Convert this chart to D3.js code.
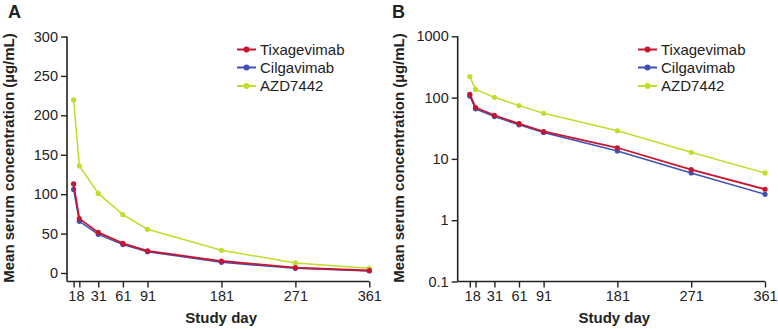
<!DOCTYPE html>
<html><head><meta charset="utf-8">
<script src="https://cdn.jsdelivr.net/npm/d3@7"></script>
<style>
body{margin:0;background:#fff;}
svg{display:block;font-family:"Liberation Sans",Arial,sans-serif;}
</style></head>
<body>
<svg id="c" width="778" height="329"></svg>
<script>
const days = [1, 8, 31, 61, 91, 181, 271, 361];
const tickLabels = ["1", "8", "31", "61", "91", "181", "271", "361"];
const seriesNames = ["Tixagevimab", "Cilgavimab", "AZD7442"];
const tixagevimab = [113, 69, 51.5, 37.5, 28, 15.2, 6.7, 3.2];
const cilgavimab = [106, 65.5, 49, 36, 27, 13.5, 5.9, 2.65];
const azd7442 = [219.5, 136, 101, 74, 55.5, 28.8, 12.8, 5.9];
const colors = ["#c8142e", "#3f50b4", "#c3dc2c"];
const linearTicks = [0, 50, 100, 150, 200, 250, 300];
const logTicks = [0.1, 1, 10, 100, 1000];
const logTickLabels = ["0.1", "1", "10", "100", "1000"];

const allSeries = [tixagevimab, cilgavimab, azd7442];
const svg = d3.select("#c");

function panel(opt) {
  const g = svg.append("g");
  const x = d3.scaleLinear().domain([1, 361]).range([opt.x0, opt.x1]);
  const y = opt.y;
  const axisBottom = 281.5;
  g.append("line").attr("x1", opt.ax).attr("x2", opt.ax).attr("y1", opt.yTop).attr("y2", axisBottom)
    .attr("stroke", "#222").attr("stroke-width", 1.6);
  g.append("line").attr("x1", opt.ax).attr("x2", opt.x1).attr("y1", axisBottom).attr("y2", axisBottom)
    .attr("stroke", "#222").attr("stroke-width", 1.6);
  const ya = d3.axisLeft(y).tickValues(opt.yTicks).tickFormat((d, i) => opt.yLabels[i]).tickSize(6).tickPadding(3);
  const yg = g.append("g").attr("transform", `translate(${opt.ax},0)`).call(ya);
  yg.select(".domain").remove();
  yg.selectAll(".tick line").attr("stroke", "#222").attr("stroke-width", 1.4);
  yg.selectAll(".tick text").attr("fill", "#222").style("font-size", "14.5px").style("font-family", "Liberation Sans, Arial, sans-serif");
  const xa = d3.axisBottom(x).tickValues(days).tickFormat((d, i) => tickLabels[i]).tickSize(6).tickPadding(3);
  const xg = g.append("g").attr("transform", `translate(0,${axisBottom})`).call(xa);
  xg.select(".domain").remove();
  xg.selectAll(".tick line").attr("stroke", "#222").attr("stroke-width", 1.4);
  xg.selectAll(".tick text").attr("fill", "#222").style("font-size", "14.5px").style("font-family", "Liberation Sans, Arial, sans-serif");
  // keep "1" and "8" from colliding: "1" sits just left of its tick
  xg.selectAll(".tick text").filter((d, i) => i === 0).attr("text-anchor", "end").attr("x", 2.2);
  xg.selectAll(".tick text").filter((d, i) => i === 1).attr("x", 0.8);
  g.append("text").attr("x", (opt.ax + opt.x1) / 2 + 3).attr("y", 323).attr("text-anchor", "middle")
    .attr("font-weight", "bold").attr("font-size", 15).attr("fill", "#222").text("Study day");
  g.append("text").attr("transform", `translate(${opt.titleX},158) rotate(-90)`).attr("text-anchor", "middle")
    .attr("font-weight", "bold").attr("font-size", 15).attr("fill", "#222").text("Mean serum concentration (µg/mL)");
  g.append("text").attr("x", opt.letterX).attr("y", 18).attr("font-weight", "bold").attr("font-size", 18)
    .attr("fill", "#222").text(opt.letter);
  const line = d3.line().x((d, i) => x(days[i])).y(d => y(d));
  [2, 1, 0].forEach(s => {
    g.append("path").datum(allSeries[s]).attr("d", line).attr("fill", "none")
      .attr("stroke", colors[s]).attr("stroke-width", s === 0 ? 1.8 : 1.5);
    g.selectAll(null).data(allSeries[s]).enter().append("circle")
      .attr("cx", (d, i) => x(days[i])).attr("cy", d => y(d)).attr("r", 2.6).attr("fill", colors[s]);
  });
  const rows = [49.5, 67.5, 86];
  seriesNames.forEach((n, i) => {
    g.append("line").attr("x1", opt.legX).attr("x2", opt.legX + 19).attr("y1", rows[i]).attr("y2", rows[i])
      .attr("stroke", colors[i]).attr("stroke-width", 2);
    g.append("circle").attr("cx", opt.legX + 9.5).attr("cy", rows[i]).attr("r", 3).attr("fill", colors[i]);
    g.append("text").attr("x", opt.legX + 23).attr("y", rows[i] + 5.4).attr("font-size", 15).attr("fill", "#222").text(n);
  });
}

panel({
  letter: "A", letterX: 8, titleX: 14,
  ax: 67, x0: 73.6, x1: 369.3, yTop: 36.5,
  y: d3.scaleLinear().domain([0, 300]).range([273, 36.5]),
  yTicks: linearTicks, yLabels: linearTicks.map(String),
  legX: 237
});
panel({
  letter: "B", letterX: 392, titleX: 404,
  ax: 457.7, x0: 469.8, x1: 765, yTop: 36.3,
  y: d3.scaleLog().domain([0.1, 1000]).range([281.5, 36.3]),
  yTicks: logTicks, yLabels: logTickLabels,
  legX: 638
});
</script>
</body></html>
